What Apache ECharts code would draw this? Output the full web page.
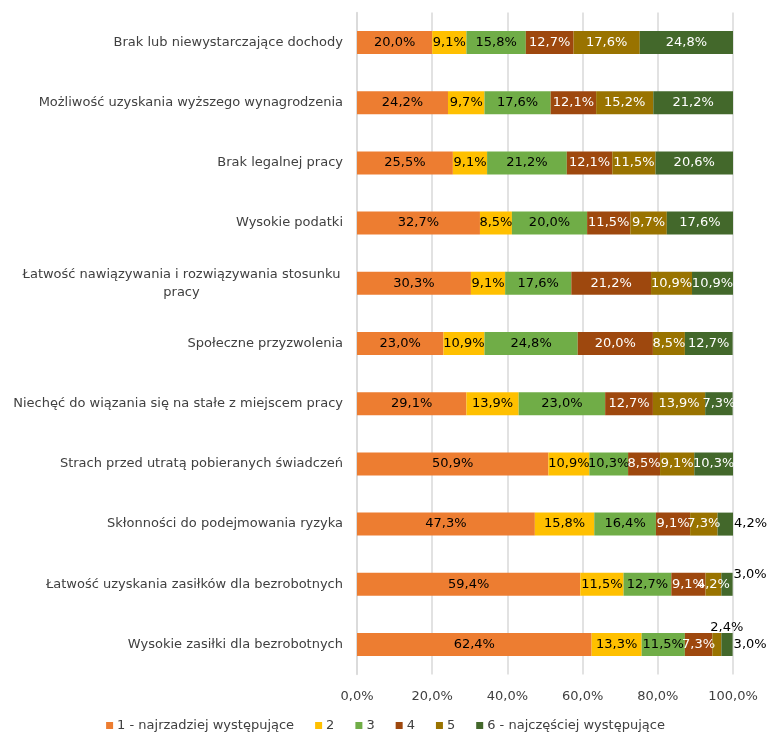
<!DOCTYPE html>
<html>
<head>
<meta charset="utf-8">
<script src="https://cdn.jsdelivr.net/npm/echarts@6/dist/echarts.min.js"></script>
<style>html,body{margin:0;padding:0;background:#fff;}#c{width:771px;height:736px;}</style>
</head>
<body>
<div id="c"></div>
<script>
const categories = [
  'Brak lub niewystarczające dochody',
  'Możliwość uzyskania wyższego wynagrodzenia',
  'Brak legalnej pracy',
  'Wysokie podatki',
  'Łatwość nawiązywania i rozwiązywania stosunku pracy',
  'Społeczne przyzwolenia',
  'Niechęć do wiązania się na stałe z miejscem pracy',
  'Strach przed utratą pobieranych świadczeń',
  'Skłonności do podejmowania ryzyka',
  'Łatwość uzyskania zasiłków dla bezrobotnych',
  'Wysokie zasiłki dla bezrobotnych'
];
const seriesNames = ['1 - najrzadziej występujące', '2', '3', '4', '5', '6 - najczęściej występujące'];
const s1 = [20.0, 24.2, 25.5, 32.7, 30.3, 23.0, 29.1, 50.9, 47.3, 59.4, 62.4];
const s2 = [9.1, 9.7, 9.1, 8.5, 9.1, 10.9, 13.9, 10.9, 15.8, 11.5, 13.3];
const s3 = [15.8, 17.6, 21.2, 20.0, 17.6, 24.8, 23.0, 10.3, 16.4, 12.7, 11.5];
const s4 = [12.7, 12.1, 12.1, 11.5, 21.2, 20.0, 12.7, 8.5, 9.1, 9.1, 7.3];
const s5 = [17.6, 15.2, 11.5, 9.7, 10.9, 8.5, 13.9, 9.1, 7.3, 4.2, 2.4];
const s6 = [24.8, 21.2, 20.6, 17.6, 10.9, 12.7, 7.3, 10.3, 4.2, 3.0, 3.0];
const xTicks = [0, 20, 40, 60, 80, 100];

const colors = ['#ED7D31', '#FFC000', '#70AD47', '#9E480E', '#997300', '#43682B'];
const labelColors = ['#000', '#000', '#000', '#fff', '#fff', '#fff'];
const allData = [s1, s2, s3, s4, s5, s6];
const FONT = 'DejaVu Sans';
const fmt = v => v.toFixed(1).replace('.', ',') + '%';

// special label placements for small segments (series index, category index)
const special = {
  '5-8': {position: 'right', distance: 1, color: '#000'},
  '5-9': {position: 'right', distance: 1, offset: [0, -10], color: '#000'},
  '4-10': {position: 'top', distance: 5, offset: [10, 6], color: '#000'},
  '5-10': {position: 'right', distance: 1, color: '#000'}
};

const series = allData.map((arr, si) => ({
  name: seriesNames[si],
  type: 'bar',
  stack: 'total',
  barWidth: 23,
  itemStyle: {color: colors[si]},
  emphasis: {disabled: true},
  label: {
    show: true,
    position: 'inside',
    color: labelColors[si],
    fontFamily: FONT,
    fontSize: 13,
    formatter: p => fmt(p.value)
  },
  data: arr.map((v, ci) => {
    const sp = special[si + '-' + ci];
    return sp ? {value: v, label: sp} : v;
  })
}));

const chart = echarts.init(document.getElementById('c'), null, {renderer: 'canvas'});
chart.setOption({
  animation: false,
  backgroundColor: '#fff',
  grid: {left: 357, right: 38, top: 12.4, bottom: 61.4, containLabel: false},
  legend: {
    top: 714,
    left: 'center',
    itemWidth: 7,
    itemHeight: 7,
    itemGap: 21,
    icon: 'rect',
    textStyle: {fontFamily: FONT, fontSize: 13, color: '#404040', padding: [0, 0, 0, -1]},
    data: seriesNames
  },
  xAxis: {
    type: 'value',
    min: xTicks[0],
    max: xTicks[xTicks.length - 1],
    interval: 20,
    axisLine: {show: false},
    axisTick: {show: false},
    splitLine: {lineStyle: {color: '#D9D9D9', width: 1.5}},
    axisLabel: {fontFamily: FONT, fontSize: 13, color: '#404040', margin: 16, formatter: v => fmt(v)}
  },
  yAxis: {
    type: 'category',
    inverse: true,
    data: categories,
    axisLine: {show: true, lineStyle: {color: '#D9D9D9', width: 1.5}},
    axisTick: {show: false},
    axisLabel: {
      fontFamily: FONT,
      fontSize: 13,
      color: '#404040',
      margin: 14,
      lineHeight: 18,
      formatter: v => v === categories[4]
        ? '{c|Łatwość nawiązywania i rozwiązywania stosunku}\n{c|pracy}'
        : v,
      rich: {c: {width: 323, align: 'center', fontFamily: FONT, fontSize: 13, color: '#404040', lineHeight: 18}}
    }
  },
  series: series
});
</script>
</body>
</html>
